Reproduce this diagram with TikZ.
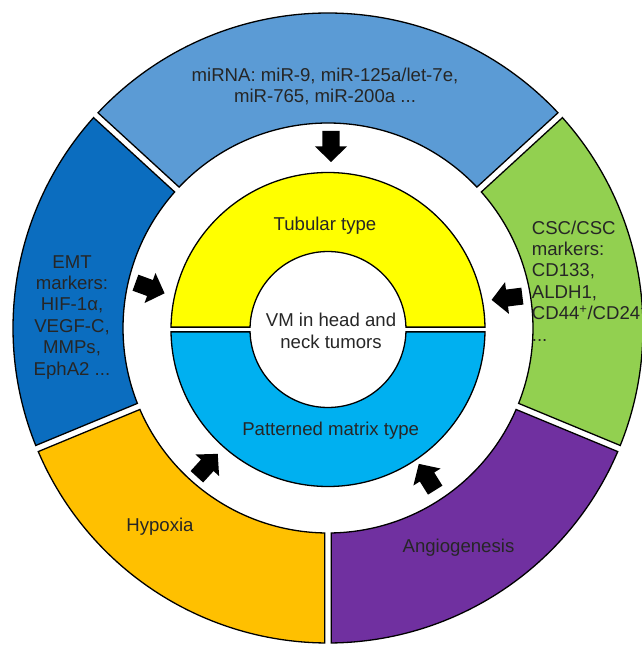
\documentclass[tikz,border=0pt]{standalone}
\usepackage{fontspec}
\setmainfont{Liberation Sans}
\definecolor{cBlue}{HTML}{5B9BD5}
\definecolor{cDark}{HTML}{0B6DBF}
\definecolor{cGreen}{HTML}{92D050}
\definecolor{cPurple}{HTML}{7030A0}
\definecolor{cOrange}{HTML}{FFC000}
\definecolor{cYellow}{HTML}{FFFF00}
\definecolor{cCyan}{HTML}{00B0F0}
\definecolor{cText}{HTML}{262626}
\tikzset{
  seg/.style={draw=black, line width=1.3pt},
  lbl/.style={text=cText, font=\fontsize{18.6}{21.4}\selectfont, inner sep=0pt, anchor=base},
  blockarrow/.pic={\fill[black] (-15.5,-8.5) -- (0,-8.5) -- (0,-16) -- (15.5,0) -- (0,16) -- (0,8.5) -- (-15.5,8.5) -- cycle;}
}
\newcommand{\ringseg}[3]{% start angle, end angle, colour
  \pgfmathsetmacro{\aR}{#1+asin(3.3/315)}\pgfmathsetmacro{\bR}{#2-asin(3.3/315)}%
  \pgfmathsetmacro{\ar}{#1+asin(3.3/205)}\pgfmathsetmacro{\br}{#2-asin(3.3/205)}%
  \draw[seg, fill=#3] (\aR:315) arc[start angle=\aR, end angle=\bR, radius=315]
     -- (\br:205) arc[start angle=\br, end angle=\ar, radius=205] -- cycle;}
\begin{document}
\begin{tikzpicture}[x=1pt,y=1pt]
\useasboundingbox (-328,-320) rectangle (313,328);
% outer ring
\ringseg{42.5}{137.5}{cBlue}
\ringseg{137.5}{202.5}{cDark}
\ringseg{202.5}{270}{cOrange}
\ringseg{270}{337.5}{cPurple}
\ringseg{337.5}{402.5}{cGreen}
% middle ring
\begin{scope}[shift={(0,-1.5)}]
\pgfmathsetmacro{\ya}{asin(2.4/157)}\pgfmathsetmacro{\yb}{asin(2.4/78)}
\draw[seg, fill=cYellow] (\ya:157) arc[start angle=\ya, end angle=180-\ya, radius=157]
  -- (180-\yb:78) arc[start angle=180-\yb, end angle=\yb, radius=78] -- cycle;
\draw[seg, fill=cCyan] (-\ya:157) arc[start angle=-\ya, end angle=-180+\ya, radius=157]
  -- (-180+\yb:78) arc[start angle=-180+\yb, end angle=-\yb, radius=78] -- cycle;
\end{scope}
% arrows
\pic[rotate=-90] at (3,181.5) {blockarrow};
\pic[rotate=-20] at (-178,40) {blockarrow};
\pic[rotate=187] at (179,30) {blockarrow};
\pic[rotate=47.6] at (-120.7,-137.3) {blockarrow};
\pic[rotate=122] at (99,-149) {blockarrow};
% labels (multi-line nodes: base = baseline of last line)
\node[lbl, align=center] (mirna) at (-3,225) {miRNA: miR-9, miR-125a/let-7e,\\miR-765, miR-200a ...};
\node[lbl] (tub) at (-3,97.3) {Tubular type};
\node[lbl, align=center] (vm) at (3,-20) {VM in head and\\neck tumors};
\node[lbl] (pat) at (2.7,-107) {Patterned matrix type};
\node[lbl, align=center] (emt) at (-256,-47) {EMT\\markers:\\HIF-1α,\\VEGF-C,\\MMPs,\\EphA2 ...};
\node[lbl, align=left, anchor=base west] (csc) at (203.7,-13) {CSC/CSC\\markers:\\CD133,\\ALDH1,\\CD44\textsuperscript{+}/CD24\textsuperscript{−}\\...};
\node[lbl] (hyp) at (-168,-203) {Hypoxia};
\node[lbl] (ang) at (130.5,-224) {Angiogenesis};
\end{tikzpicture}
\end{document}
